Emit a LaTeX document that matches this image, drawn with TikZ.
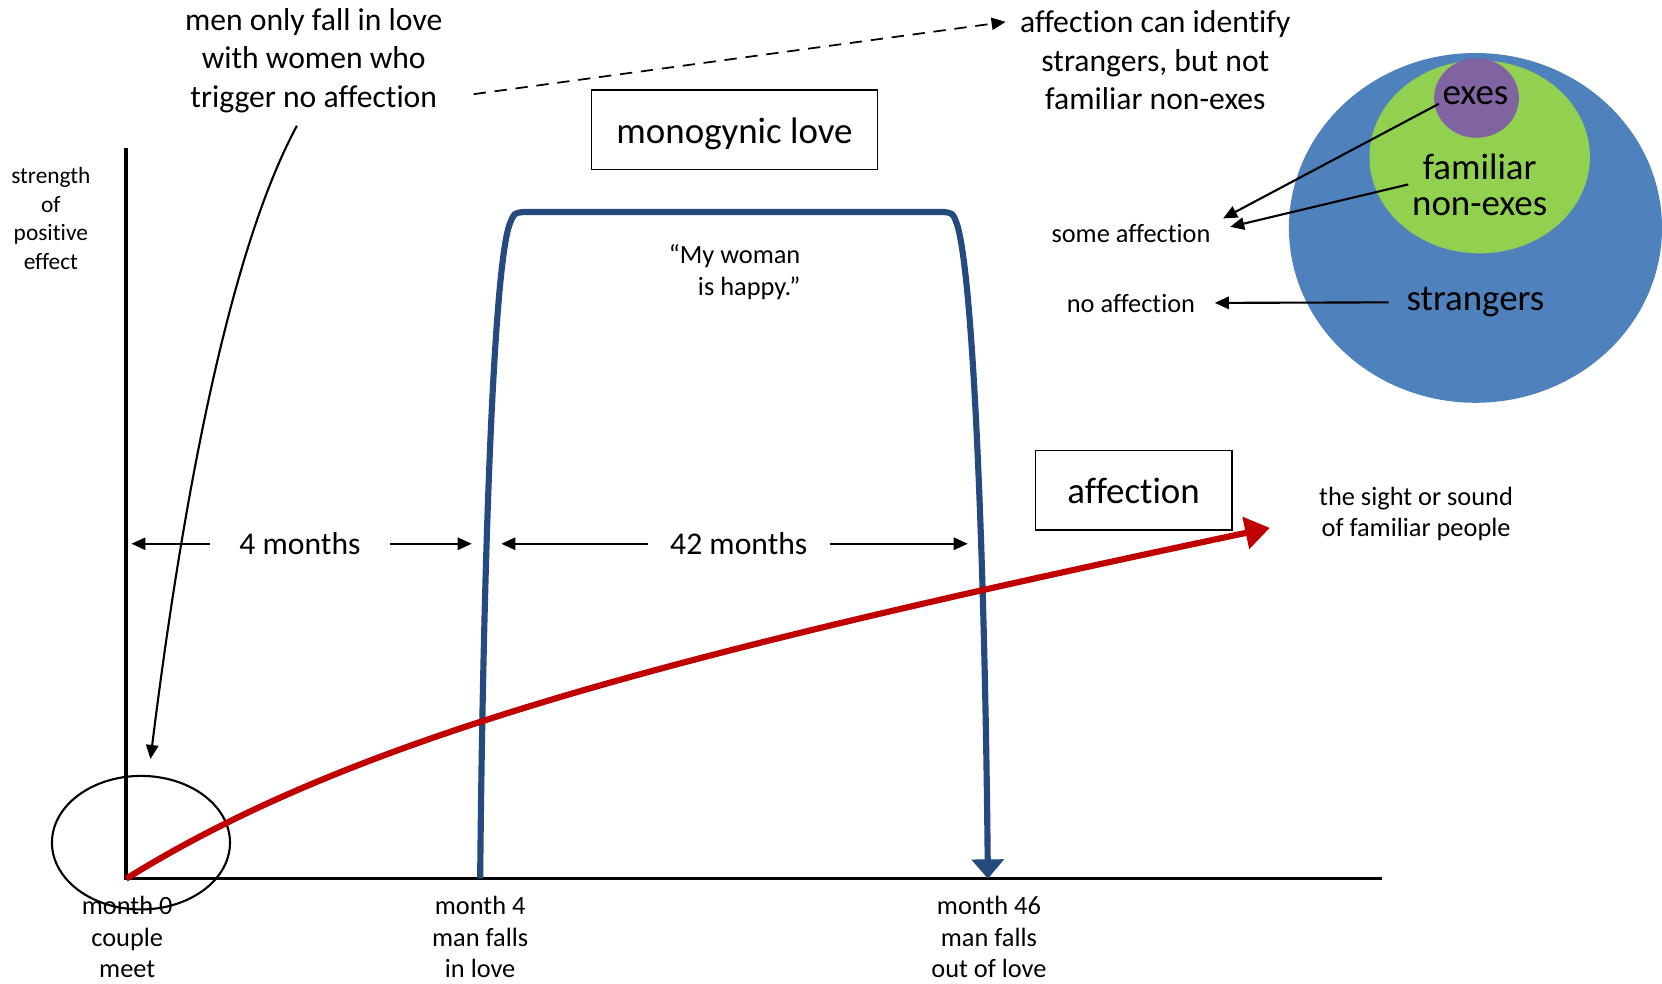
\documentclass[tikz,border=0pt]{standalone}
\usepackage{fontspec}
\setmainfont{Carlito}[Ligatures={TeX,NoCommon}]
\usepackage{tikz}
\usetikzlibrary{
    arrows.meta,
    shapes.geometric
}
\definecolor{azulcurva}{RGB}{36,74,126}
\definecolor{rojo}{RGB}{192,0,0}
\definecolor{azulvenn}{RGB}{79,129,189}
\definecolor{verde}{RGB}{146,208,80}
\definecolor{morado}{RGB}{128,100,162}
\tikzset{
    >={Triangle[length=8pt,width=7pt]},
    texto/.style={
        inner sep=2pt,
        align=center
    },
    grande/.style={texto, font=\fontsize{18}{21.8}\selectfont},
    chico/.style={texto, font=\fontsize{15}{18}\selectfont},
    venn/.style={texto, font=\fontsize{21}{20.4}\selectfont},
    caja/.style={
        draw,
        line width=1pt,
        minimum height=1.59cm,
        text height=20.3pt,
        text depth=5.3pt,
        font=\fontsize{21}{25}\selectfont
    },
    flecha/.style={->, line width=1.2pt}
}

\begin{document}
\begin{tikzpicture}[
    x=0.0212cm,
    y=-0.0212cm
]

    \useasboundingbox (0,0) rectangle (1568,928);

    % Conjuntos
    \fill[azulvenn] (1392,215)  ellipse [x radius=176, y radius=165];
    \fill[verde]    (1396,148)  ellipse [x radius=104, y radius=91];
    \fill[morado]   (1393,92.5) ellipse [x radius=40,  y radius=37.5];

    \node[venn]                 (exes) at (1392,90)   {exes};
    \node[venn]                 (fam)  at (1396,174)  {familiar\\non-exes};
    \node[venn, inner xsep=10pt] (str) at (1392,285)  {strangers};

    \node[chico]                 (some) at (1067,220) {some affection};
    \node[chico, inner xsep=11pt] (noaf) at (1067,286) {no affection};

    % Ejes
    \coordinate (o)    at (119,829);
    \coordinate (ytop) at (119,140);
    \coordinate (xend) at (1304,829);
    \coordinate (m4)   at (453,829);
    \coordinate (m46)  at (932,829);

    \draw[line width=2pt] (ytop) -- (o) -- (xend);

    \node[draw, ellipse, line width=1.2pt,
          minimum width=3.56cm, minimum height=2.67cm] (circo) at (133,795) {};

    % Curvas
    \draw[azulcurva, line width=3.5pt, -{Triangle[length=11pt,width=18pt]}]
        (m4) .. controls (456,520) and (466,250) .. (481,211)
             .. controls (485,201) .. (494,200)
             -- (890,200)
             .. controls (899,201) .. (903,212)
             .. controls (918,260) and (929,520) .. (m46);

    \coordinate (punta) at (1198,498);
    \draw[rojo, line width=3.5pt, -{Triangle[length=14pt,width=18pt]}]
        (o) .. controls (330,698) and (620,620) .. (punta);

    % Textos
    \node[grande] (hombres) at (296,57)   {men only fall in love\\with women who\\trigger no affection};
    \node[grande] (identif) at (1090,57)  {affection can identify\\strangers, but not\\familiar non-exes};
    \node[texto, font=\fontsize{13.3}{16.2}\selectfont]
                  (fuerza)  at (48,206)   {strength\\of\\positive\\effect};
    \node[chico, align=right]
                  (feliz)   at (693,257)  {“My woman\\is happy.”};
    \node[chico]  (vista)   at (1336,485) {the sight or sound\\of familiar people};

    \node[caja, minimum width=5.72cm] (mono) at (693,122.5)  {monogynic love};
    \node[caja, minimum width=3.92cm] (afec) at (1069.5,462.5) {affection};

    \node[chico, inner sep=0pt] (l0)  at (120,884) {month 0\\couple\\meet};
    \node[chico, inner sep=0pt] (l4)  at (453,884) {month 4\\man falls\\in love};
    \node[chico, inner sep=0pt] (l46) at (933,884) {month 46\\man falls\\out of love};

    % Intervalos
    \node[grande, inner xsep=16.8pt] (cuatro)   at (283,513) {4 months};
    \node[grande, inner xsep=12.6pt] (cuarenta) at (697,513) {42 months};

    \coordinate (c0)  at (124,513);
    \coordinate (c4)  at (445,513);
    \coordinate (c4b) at (473,513);
    \coordinate (c46) at (913,513);

    % Flechas
    \path[flecha]
        (cuatro)
            edge (c0)
            edge (c4)
        (cuarenta)
            edge (c4b)
            edge (c46)
        (str)
            edge (noaf)
        ([yshift=-4.8pt]exes.west)
            edge ([xshift=5pt,yshift=8.4pt]some.east)
        (fam.west)
            edge ([xshift=9pt,yshift=3.6pt]some.east);

    \draw[flecha]
        ([xshift=-9.6pt,yshift=-5.4pt]hombres.south)
            .. controls (220,230) and (175,450) ..
        ([xshift=5.4pt,yshift=9pt]circo.north);

    \draw[->, line width=1pt, dash pattern=on 7pt off 5pt]
        ([xshift=15.6pt,yshift=12.6pt]hombres.south east)
            -- ([xshift=-6pt,yshift=-8.4pt]identif.north west);

\end{tikzpicture}
\end{document}
